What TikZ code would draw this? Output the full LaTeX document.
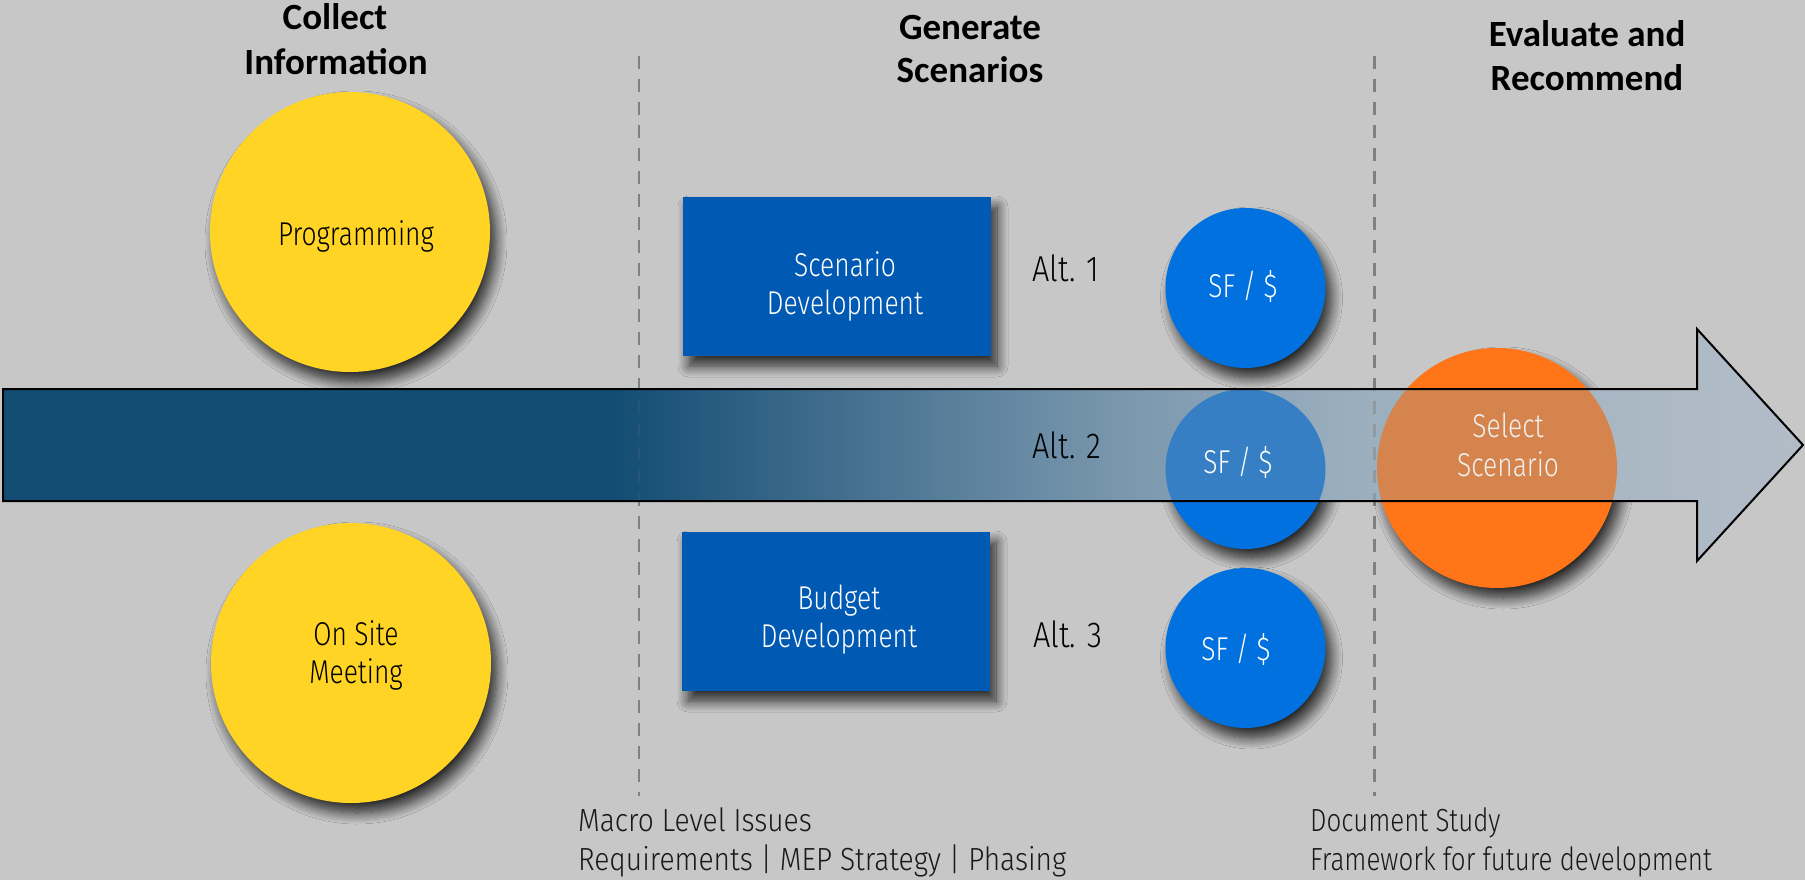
\documentclass[tikz,border=0pt]{standalone}
\usepackage{fontspec}
\setmainfont{Carlito}
\newfontfamily\lightfont{Fira Sans Light}[FakeStretch=0.8]
\newfontfamily\lowfont{Fira Sans Light}[FakeStretch=0.88]
\newfontfamily\docfont{Fira Sans Light}[FakeStretch=0.81]
\newfontfamily\altfont{Fira Sans Light}[FakeStretch=0.85]
\usetikzlibrary{shadows.blur}
\definecolor{bgc}{HTML}{C7C7C7}
\definecolor{yel}{HTML}{FFD424}
\definecolor{boxblue}{HTML}{0059B3}
\definecolor{sfblue}{HTML}{0071DE}
\definecolor{orng}{HTML}{FF7518}
\definecolor{sfband}{HTML}{377FC4}
\definecolor{orband}{HTML}{D5844D}
\definecolor{dashc}{HTML}{808080}
\definecolor{arA}{HTML}{134D73}
\definecolor{arB}{HTML}{3D6A8B}
\definecolor{arC}{HTML}{6A8CA5}
\definecolor{arD}{HTML}{7E9AB0}
\definecolor{arE}{HTML}{9AAEBE}
\definecolor{arF}{HTML}{AEBAC6}
\definecolor{arG}{HTML}{B2BCC7}
\pgfdeclarehorizontalshading{arrowshade}{100bp}{color(0bp)=(arA); color(25bp)=(arA); color(42.0bp)=(arA); color(47.5bp)=(arB); color(53.7bp)=(arC); color(56.8bp)=(arD); color(62.4bp)=(arE); color(72.1bp)=(arF); color(75bp)=(arG); color(100bp)=(arG)}
\tikzset{
  shad/.style={blur shadow={shadow xshift=6pt, shadow yshift=-10pt, shadow blur radius=11pt, shadow blur steps=12, shadow opacity=80}},
  yc/.style={circle, fill=yel, minimum size=280pt, inner sep=0pt, shad},
  bbox/.style={rectangle, fill=boxblue, minimum width=308pt, minimum height=159pt, inner sep=0pt, shad},
  sfc/.style={circle, fill=sfblue, minimum size=160pt, inner sep=0pt, shad},
  orc/.style={circle, fill=orng, minimum size=240pt, inner sep=0pt, shad},
  sep/.style={draw=dashc, line width=2.5pt, dash pattern=on 13pt off 10pt},
  lt/.style={font=\lightfont\fontsize{33}{38}\selectfont, inner sep=0pt, anchor=base},
  alt/.style={font=\altfont\fontsize{36}{40}\selectfont, inner sep=0pt, anchor=base},
  low/.style={font=\lowfont\fontsize{32}{38}\selectfont, inner sep=0pt, anchor=base west, text=black!90},
  doc/.style={font=\docfont\fontsize{32}{38}\selectfont, inner sep=0pt, anchor=base west, text=black!90},
  ttl/.style={font=\bfseries\fontsize{37}{44}\selectfont, inner sep=0pt, anchor=base},
}
\begin{document}
\begin{tikzpicture}[x=1pt, y=-1pt]
\fill[bgc] (0,0) rectangle (1805,880);
\useasboundingbox (0,0) rectangle (1805,880);
% separators
\coordinate (d1t) at (639,56);
\coordinate (d1b) at (639,796);
\coordinate (d2t) at (1374.6,56);
\coordinate (d2b) at (1374.6,796);
\draw[sep] (d1t) -- (d1b);
\draw[sep] (d2t) -- (d2b);
% titles
\node[ttl] (t1a) at (335,30) {Collect};
\node[ttl] (t1b) at (336,75) {Information};
\node[ttl] (t2a) at (970,40) {Generate};
\node[ttl] (t2b) at (970,83) {Scenarios};
\node[ttl] (t3a) at (1587,47) {Evaluate and};
\node[ttl] (t3b) at (1587,91) {Recommend};
% shapes
\node[yc] (prog) at (350,232) {};
\node[yc] (site) at (351,663) {};
\node[bbox] (scen) at (837,276.5) {};
\node[bbox] (budg) at (836,611.5) {};
\node[sfc] (sf1) at (1245.5,288) {};
\node[sfc] (sf2) at (1245.5,469) {};
\node[sfc] (sf3) at (1245.5,648) {};
\node[orc] (sel) at (1497,468) {};
% big arrow
\shade[shading=arrowshade] (3,389) -- (1697,389) -- (1697,329) -- (1803,445) -- (1697,561) -- (1697,501) -- (3,501) -- cycle;
\begin{scope}
  \clip (3,389) rectangle (1697,501);
  \fill[sfband] (sf2) circle (80);
  \fill[orband] (sel) circle (120);
  \draw[sep, draw opacity=0.45] (d2t) -- (d2b);
  \draw[sep, draw opacity=0.12] (d1t) -- (d1b);
\end{scope}
\draw[black, line width=2pt, line join=miter] (3,389) -- (1697,389) -- (1697,329) -- (1803,445) -- (1697,561) -- (1697,501) -- (3,501) -- cycle;
% texts
\node[lt] (progt) at (356,245) {Programming};
\node[lt] (sitea) at (356,645) {On Site};
\node[lt] (siteb) at (356,683) {Meeting};
\node[lt, text=white] (scena) at (845,276) {Scenario};
\node[lt, text=white] (scenb) at (845,314) {Development};
\node[lt, text=white] (budga) at (839,609) {Budget};
\node[lt, text=white] (budgb) at (839,647) {Development};
\node[alt] (alt1) at (1066,281) {Alt. 1};
\node[alt] (alt2) at (1067,458) {Alt. 2};
\node[alt] (alt3) at (1068,647) {Alt. 3};
\node[lt, text=white] (sf1t) at (1243,297) {SF / \$};
\node[lt, text=white] (sf2t) at (1238,473) {SF / \$};
\node[lt, text=white] (sf3t) at (1236,660) {SF / \$};
\node[lt, text=white!94!black] (sela) at (1508,437) {Select};
\node[lt, text=white!94!black] (selb) at (1508,476) {Scenario};
\node[low] (mac1) at (578,831) {Macro Level Issues};
\node[low] (mac2) at (578,870) {Requirements | MEP Strategy | Phasing};
\node[doc] (doc1) at (1310,831) {Document Study};
\node[doc] (doc2) at (1310,870) {Framework for future development};
\end{tikzpicture}
\end{document}
